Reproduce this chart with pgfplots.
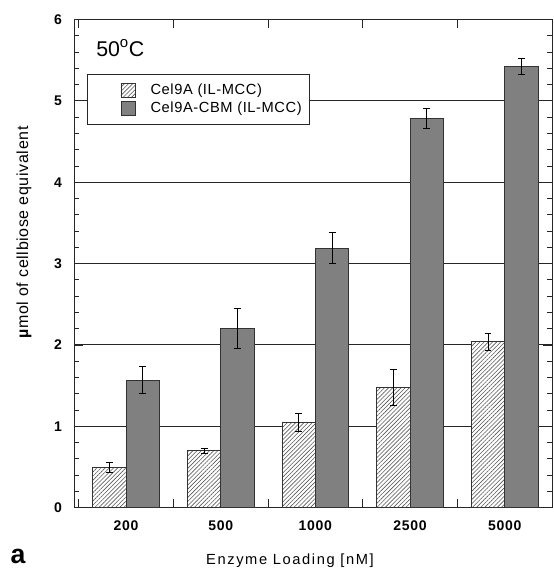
\documentclass[border=0pt]{standalone}
\usepackage{fontspec}
\setmainfont{Liberation Sans}
\newfontfamily\xlabfont[LetterSpace=11]{Liberation Sans}
\newfontfamily\ylabfont[LetterSpace=4]{Liberation Sans}
\newfontfamily\tickfont[LetterSpace=5]{Liberation Sans}
\newfontfamily\legfont[LetterSpace=4]{Liberation Sans}
\usepackage{pgfplots}
\usepackage{pgfplotstable}
\pgfplotsset{compat=1.18}
\usetikzlibrary{patterns.meta}

\pgfplotstableread{
x y e
0 0.49 0.06
1 0.70 0.03
2 1.045 0.11
3 1.48 0.22
4 2.04 0.105
}\hatchdata
\pgfplotstableread{
x y e
0 1.566 0.165
1 2.205 0.245
2 3.188 0.19
3 4.785 0.12
4 5.424 0.10
}\darkdata

\definecolor{barfill}{HTML}{808080}
\definecolor{edge}{HTML}{333333}

\begin{document}
\begin{tikzpicture}
\begin{axis}[
  scale only axis,
  width=358.5pt, height=366.15pt,
  xmin=-0.55, xmax=4.5,
  ymin=0, ymax=6,
  ybar=0pt, bar width=25pt,
  xtick={-0.5,0.5,...,4.5},
  xticklabels={},
  extra x ticks={0,1,2,3,4},
  extra x tick labels={200,500,1000,2500,5000},
  extra x tick style={major tick length=0pt},
  major tick length=6.75pt,
  minor tick length=4pt,
  ytick={0,1,...,6},
  minor y tick num=4,
  ymajorgrids,
  grid style={black!85, line width=0.7pt},
  axis line style={black!85, line width=0.7pt},
  tick style={black!85, line width=0.6pt},
  tick align=inside,
  /pgf/number format/assume math mode=true,
  xticklabel style={font=\tickfont\bfseries\fontsize{10.5}{12}\selectfont, yshift=-6.5pt},
  yticklabel style={font=\bfseries\fontsize{10.5}{12}\selectfont, xshift=-5.5pt},
  error bars/y dir=both, error bars/y explicit,
  error bars/error mark options={rotate=90, mark size=2.6pt, line width=0.7pt, black},
  error bars/error bar style={line width=0.7pt, black},
  legend style={
    at={(rel axis cs:0.0266,0.8877)}, anchor=north west,
    draw=black!85, line width=0.6pt, fill=white,
    font=\legfont\fontsize{11}{13}\selectfont,
    inner xsep=4pt, inner ysep=5pt,
    row sep=0pt,
    legend cell align=left,
  },
  legend image code/.code={
    \path (-21pt,0) (20pt,0);
    \draw[#1, line width=0.5pt] (0pt,-5.2pt) rectangle (10.5pt,5.2pt);
  },
]
\addplot[draw=edge, line width=0.6pt, fill=white,
  postaction={pattern={Lines[angle=45,distance=2.2pt,line width=0.45pt]}, pattern color=black!65}]
  table[x=x, y=y, y error=e] {\hatchdata};
\addlegendentry{Cel9A (IL-MCC)}
\addplot[draw=edge, line width=0.6pt, fill=barfill]
  table[x=x, y=y, y error=e] {\darkdata};
\addlegendentry{Cel9A-CBM (IL-MCC)}
\coordinate (ll) at (rel axis cs:0,0);
\coordinate (ur) at (rel axis cs:1,1);
\node[anchor=west, font=\fontsize{16}{18}\selectfont, inner sep=0pt] at (rel axis cs:0.046,0.9417) {50\textsuperscript{o}C};
\end{axis}
\node[font=\xlabfont\fontsize{11}{13}\selectfont] at ([xshift=162pt,yshift=-40pt]ll) {Enzyme Loading [nM]};
\node[font=\ylabfont\fontsize{12}{14}\selectfont, rotate=90] at ([xshift=-37.5pt,yshift=206.4pt]ll) {\textbf{µ}mol of cellbiose equivalent};
\node[font=\bfseries\fontsize{20}{22}\selectfont] at ([xshift=-42pt,yshift=-36.6pt]ll) {a};
\pgfresetboundingbox
\path[use as bounding box] ([xshift=-55.5pt,yshift=-46pt]ll) rectangle ([xshift=1pt,yshift=14.6pt]ur);
\end{tikzpicture}
\end{document}
